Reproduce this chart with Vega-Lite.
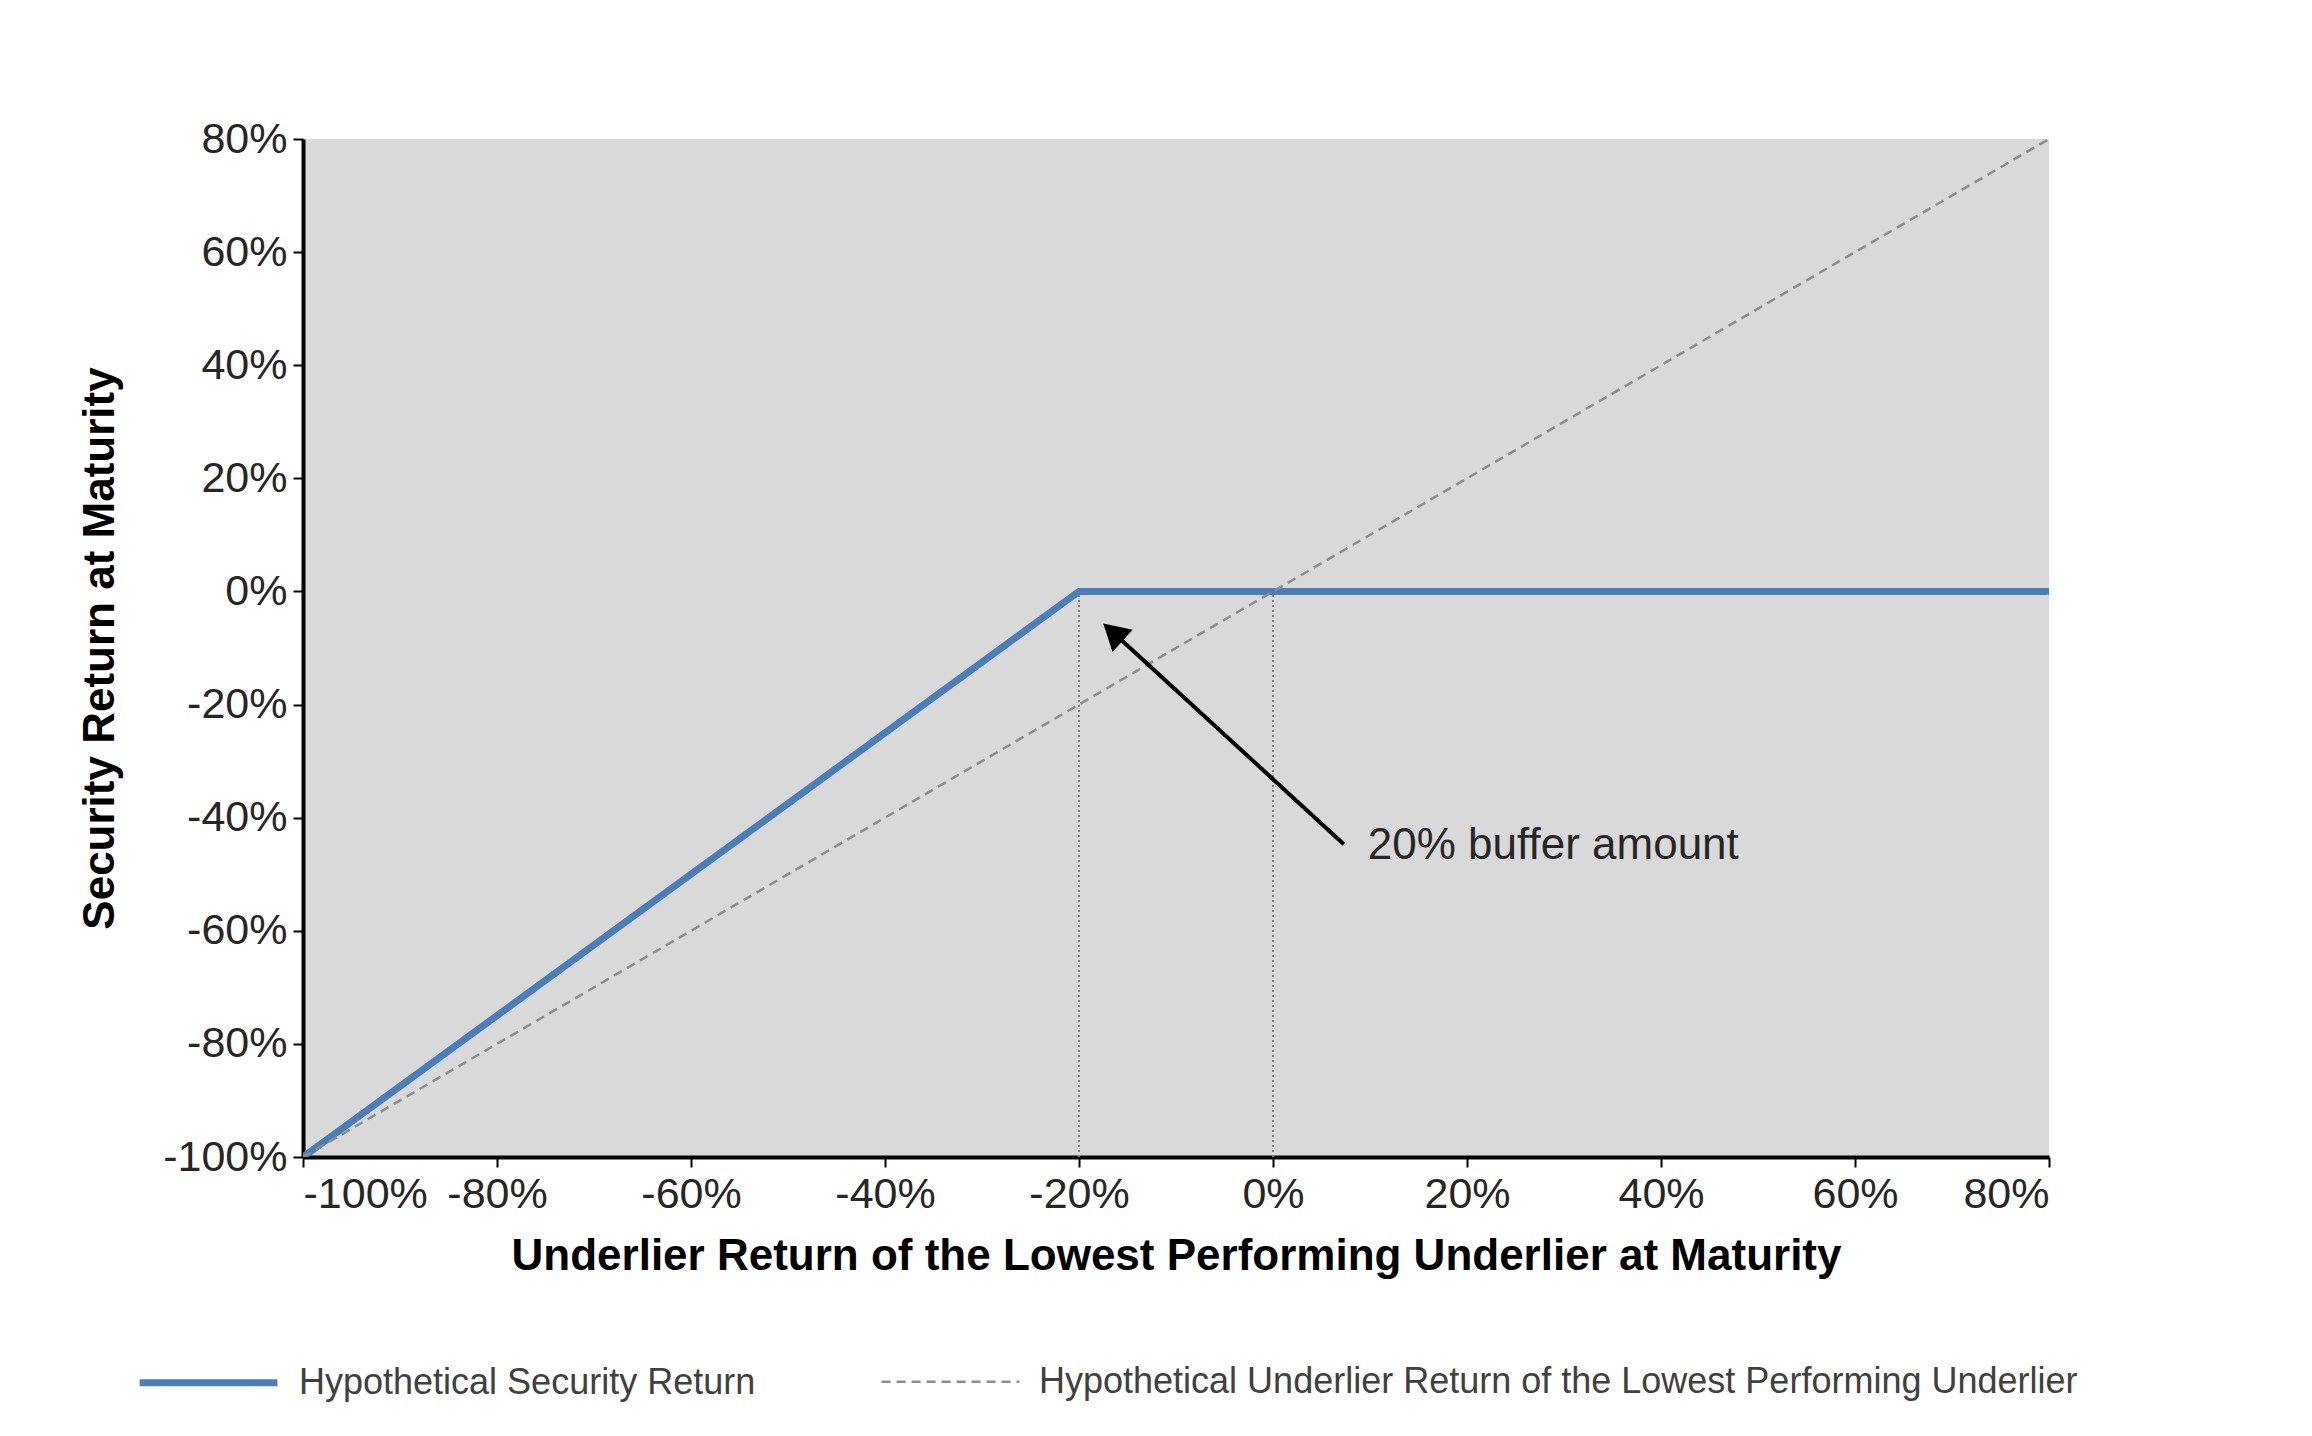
{
  "$schema": "https://vega.github.io/schema/vega-lite/v6.json",
  "width": 1746,
  "height": 1018,
  "autosize": "none",
  "padding": {"left": 303, "top": 139, "right": 263, "bottom": 279},
  "background": "white",
  "config": {
    "font": "Liberation Sans",
    "view": {"fill": "#d9d9d9", "stroke": null}
  },
  "datasets": {
    "lines": [
      {"series": "Hypothetical Security Return", "x": -100, "y": -100},
      {"series": "Hypothetical Security Return", "x": -20, "y": 0},
      {"series": "Hypothetical Security Return", "x": 80, "y": 0},
      {"series": "Hypothetical Underlier Return of the Lowest Performing Underlier", "x": -100, "y": -100},
      {"series": "Hypothetical Underlier Return of the Lowest Performing Underlier", "x": 80, "y": 80}
    ],
    "guides": [{"x": -20}, {"x": 0}],
    "arrow": [{"x1": 7.3, "y1": -44.7, "x2": -16.5, "y2": -7.2, "label": "20% buffer amount"}]
  },
  "layer": [
    {
      "data": {"name": "guides"},
      "mark": {"type": "rule", "color": "#808080", "strokeWidth": 2, "strokeDash": [2, 3]},
      "encoding": {
        "x": {"field": "x", "type": "quantitative"},
        "y": {"datum": -100, "type": "quantitative"},
        "y2": {"datum": 0}
      }
    },
    {
      "data": {"name": "lines"},
      "mark": {"type": "line", "clip": true},
      "encoding": {
        "x": {
          "field": "x", "type": "quantitative",
          "scale": {"domain": [-100, 80], "nice": false},
          "axis": {
            "values": [-100, -80, -60, -40, -20, 0, 20, 40, 60, 80],
            "labelExpr": "datum.value + '%'",
            "grid": false, "domainColor": "black", "domainWidth": 4,
            "tickColor": "black", "tickWidth": 2, "tickSize": 10,
            "labelFontSize": 43, "labelColor": "#262626", "labelPadding": 6,
            "title": "Underlier Return of the Lowest Performing Underlier at Maturity",
            "titleFontSize": 44, "titleFontWeight": "bold", "titleColor": "black", "titlePadding": 18
          }
        },
        "y": {
          "field": "y", "type": "quantitative",
          "scale": {"domain": [-100, 80], "nice": false},
          "axis": {
            "values": [-100, -80, -60, -40, -20, 0, 20, 40, 60, 80],
            "labelExpr": "datum.value + '%'",
            "grid": false, "domainColor": "black", "domainWidth": 4,
            "tickColor": "black", "tickWidth": 2, "tickSize": 10,
            "labelFontSize": 43, "labelColor": "#262626", "labelPadding": 6,
            "title": "Security Return at Maturity",
            "titleFontSize": 44, "titleFontWeight": "bold", "titleColor": "black", "titlePadding": 40
          }
        },
        "color": {
          "field": "series", "type": "nominal",
          "scale": {"domain": ["Hypothetical Security Return", "Hypothetical Underlier Return of the Lowest Performing Underlier"], "range": ["#4a7ebb", "#8c8c8c"]},
          "legend": {
            "orient": "none", "legendX": -167, "legendY": 1171, "direction": "horizontal",
            "title": null, "symbolType": "stroke", "symbolSize": 19000, "symbolStrokeWidth": 5,
            "labelFontSize": 36, "labelColor": "#404040", "labelLimit": 1400, "labelOffset": 18, "columnPadding": 120
          }
        },
        "strokeDash": {
          "field": "series", "type": "nominal",
          "scale": {"domain": ["Hypothetical Security Return", "Hypothetical Underlier Return of the Lowest Performing Underlier"], "range": [[1, 0], [9, 6]]}
        },
        "strokeWidth": {
          "field": "series", "type": "nominal",
          "scale": {"domain": ["Hypothetical Security Return", "Hypothetical Underlier Return of the Lowest Performing Underlier"], "range": [7, 2.5]},
          "legend": null
        }
      }
    },
    {
      "data": {"name": "arrow"},
      "mark": {"type": "rule", "color": "black", "strokeWidth": 4},
      "encoding": {
        "x": {"field": "x1", "type": "quantitative"},
        "y": {"field": "y1", "type": "quantitative"},
        "x2": {"field": "x2"},
        "y2": {"field": "y2"}
      }
    },
    {
      "data": {"name": "arrow"},
      "mark": {"type": "point", "shape": "triangle-up", "filled": true, "color": "black", "opacity": 1, "size": 900, "angle": 312},
      "encoding": {
        "x": {"field": "x2", "type": "quantitative"},
        "y": {"field": "y2", "type": "quantitative"}
      }
    },
    {
      "data": {"name": "arrow"},
      "mark": {"type": "text", "align": "left", "baseline": "middle", "dx": 24, "dy": 2, "fontSize": 44, "color": "#262626"},
      "encoding": {
        "x": {"field": "x1", "type": "quantitative"},
        "y": {"field": "y1", "type": "quantitative"},
        "text": {"field": "label"}
      }
    }
  ]
}
